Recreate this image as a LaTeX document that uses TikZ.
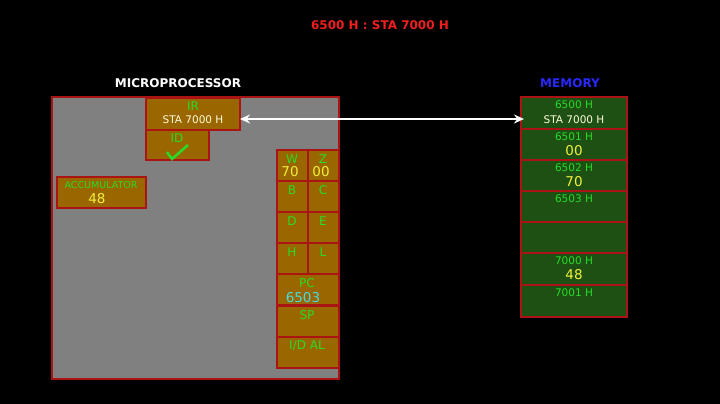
\documentclass[tikz,border=0pt]{standalone}
\usepackage{fontspec}
\setmainfont{DejaVu Sans}
\usepackage{xcolor}
\usetikzlibrary{arrows.meta}
\definecolor{regfill}{RGB}{153,102,0}
\definecolor{memfill}{RGB}{30,80,20}
\definecolor{boxred}{RGB}{170,20,20}
\definecolor{lblgreen}{RGB}{40,220,40}
\definecolor{valyellow}{RGB}{240,240,60}
\definecolor{pccyan}{RGB}{70,220,220}
\definecolor{mpgray}{RGB}{128,128,128}
\definecolor{titlered}{RGB}{240,30,30}
\definecolor{memblue}{RGB}{40,40,255}
\begin{document}
\begin{tikzpicture}[x=1pt,y=-1pt]
  \tikzset{
    reg/.style={draw=boxred,line width=2pt,fill=regfill,inner sep=0pt},
    mem/.style={draw=boxred,line width=2pt,fill=memfill,inner sep=0pt},
    lbl/.style={text=lblgreen,font=\fontsize{12}{12}\selectfont,inner sep=0pt},
    small/.style={font=\fontsize{10.5}{11}\selectfont},
    val/.style={text=valyellow,font=\fontsize{13.5}{14}\selectfont,inner sep=0pt},
    head/.style={font=\fontsize{12}{13}\selectfont\bfseries,inner sep=0pt}
  }
  \fill[black] (0,0) rectangle (720,404);
  \node[head,text=titlered] (title) at (380,25) {6500 H : STA 7000 H};
  \node[head,text=white] (mptitle) at (178,83) {MICROPROCESSOR};
  \node[head,text=memblue] (memtitle) at (570,83) {MEMORY};
  % microprocessor
  \draw[draw=boxred,line width=2pt,fill=mpgray] (52,97) rectangle (339,379);
  \draw[reg] (146,98) rectangle (240,130);
  \node[lbl] (ir) at (193,106) {IR};
  \node[lbl,small,text=white!85!yellow] (irval) at (193,120) {STA 7000 H};
  \draw[reg] (146,130) rectangle (209,160);
  \node[lbl] (id) at (177,138) {ID};
  \draw[lblgreen,line width=2.5pt] (167,152) -- (172,159) -- (188,145);
  \draw[reg] (57,177) rectangle (146,208);
  \node[lbl,font=\fontsize{9.5}{10}\selectfont] (acc) at (101,185) {ACCUMULATOR};
  \node[val] (accval) at (97,199) {48};
  % register pairs
  \foreach \y/\a/\b [count=\i] in {150/W/Z,181/B/C,212/D/E,243/H/L}{
    \draw[reg] (277,\y) rectangle (308,\y+31);
    \draw[reg] (308,\y) rectangle (339,\y+31);
    \node[lbl] (r\i a) at (292,\y+9) {\a};
    \node[lbl] (r\i b) at (323,\y+9) {\b};
  }
  \node[val] (wval) at (290,172) {70};
  \node[val] (zval) at (321,172) {00};
  \foreach \y/\t [count=\i] in {274/PC,306/SP,337/{I/D AL}}{
    \draw[reg] (277,\y) rectangle (339,\y+31);
    \node[lbl] (s\i) at (307,\y+9) {\t};
  }
  \node[val,text=pccyan] (pcval) at (303,298) {6503};
  % memory
  \foreach \y/\t [count=\i] in {97/6500 H,129/6501 H,160/6502 H,191/6503 H,222/,253/7000 H,285/7001 H}{
    \draw[mem] (521,\y) rectangle (627,\y+32);
    \node[lbl,small] (m\i) at (574,\y+8) {\t};
  }
  \node[lbl,small,text=white!85!yellow] (m1val) at (574,120) {STA 7000 H};
  \node[val] (m2val) at (574,151) {00};
  \node[val] (m3val) at (574,182) {70};
  \node[val] (m6val) at (574,275) {48};
  \coordinate (irport) at (240,119);
  \coordinate (memport) at (524,119);
  \draw[white,line width=2pt,{Stealth[length=10pt,width=9pt]}-{Stealth[length=10pt,width=9pt]}] (irport) -- (memport);
\end{tikzpicture}
\end{document}
